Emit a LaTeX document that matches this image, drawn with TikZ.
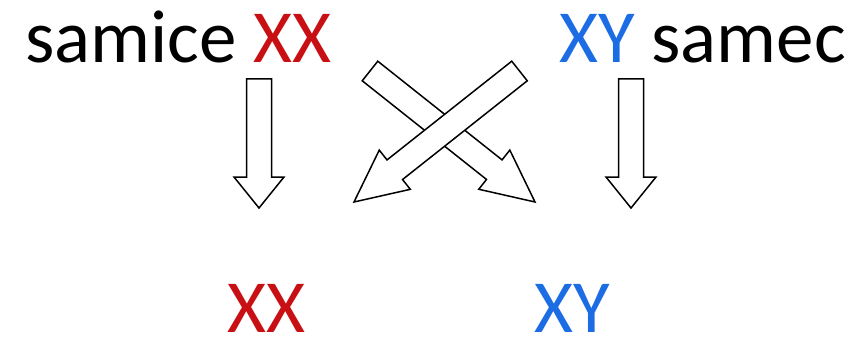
\documentclass[tikz,border=0pt]{standalone}
\usepackage{fontspec}
\setmainfont{Carlito}
\usepackage{xcolor}
\usepackage{tikz}
\usetikzlibrary{calc}
\definecolor{xxred}{RGB}{200,16,20}
\definecolor{xyblue}{RGB}{28,108,228}
\tikzset{
  lbl/.style={inner sep=0pt, font=\fontsize{75}{80}\selectfont},
  blok/.style={draw, line width=1.5pt, fill=white, line join=miter},
}
% block arrow from #1 (tail) to #2 (tip), head length #3
\newcommand{\blokarrow}[3]{%
  \coordinate (hb) at ($(#2)!#3!(#1)$);
  \draw[blok] ($(#1)!12.5pt!90:(#2)$) -- ($(hb)!12.5pt!90:(#2)$)
    -- ($(hb)!25pt!90:(#2)$) -- (#2) -- ($(hb)!25pt!-90:(#2)$)
    -- ($(hb)!12.5pt!-90:(#2)$) -- ($(#1)!12.5pt!-90:(#2)$) -- cycle;
}

\begin{document}
\begin{tikzpicture}[x=1pt, y=1pt]
    \useasboundingbox (0,0) rectangle (861,338);
    \node[lbl, anchor=base west] (samice) at (25,275) {samice \textcolor{xxred}{XX}};
    \node[lbl, anchor=base east] (samec) at (846,275) {\textcolor{xyblue}{XY} samec};
    \node[lbl, anchor=base, text=xxred] (potXX) at (266.5,6) {XX};
    \node[lbl, anchor=base, text=xyblue] (potXY) at (572.5,6) {XY};
    \coordinate (lt) at (259,259);   \coordinate (lb) at (259,130);
    \coordinate (rt) at (631,259);   \coordinate (rb) at (631,130);
    \coordinate (at) at (370,267);   \coordinate (ab) at (535,136);
    \coordinate (bt) at (519.5,267); \coordinate (bb) at (354,136);
    \blokarrow{lt}{lb}{31pt}
    \blokarrow{rt}{rb}{31pt}
    \blokarrow{at}{ab}{52pt}
    \blokarrow{bt}{bb}{52pt}
  \end{tikzpicture}
\end{document}
